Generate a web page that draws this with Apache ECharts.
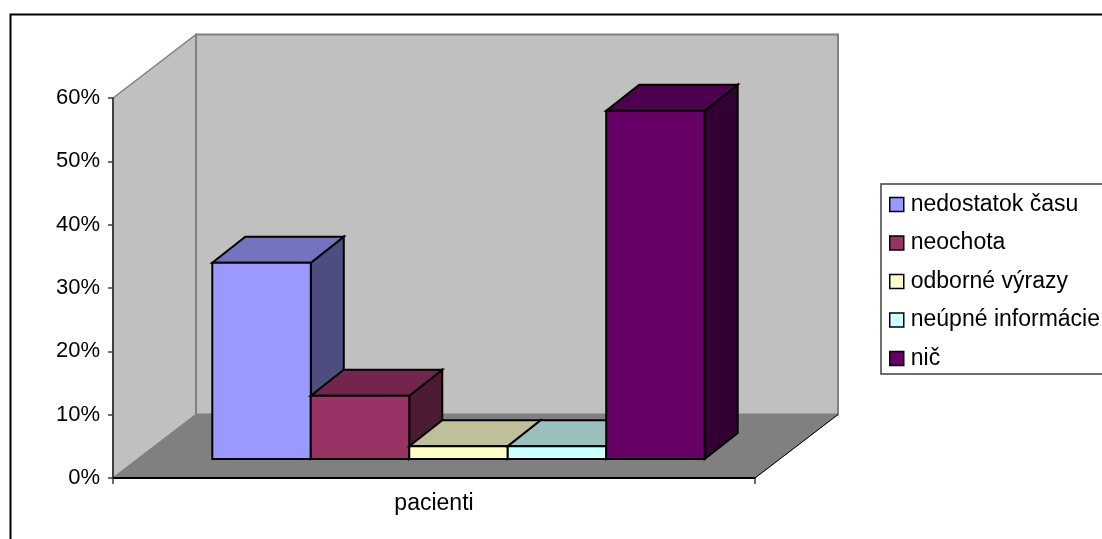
<!DOCTYPE html>
<html>
<head>
<meta charset="utf-8">
<style>html,body{margin:0;padding:0;background:#fff}#chart{width:1102px;height:539px}</style>
<script src="https://cdn.jsdelivr.net/npm/echarts@6/dist/echarts.min.js"></script>
</head>
<body>
<div id="chart"></div>
<script>
// Survey answers for one group, as shares of respondents
const categories = ['pacienti'];
const seriesNames = ['nedostatok času', 'neochota', 'odborné výrazy', 'neúpné informácie', 'nič'];
const seriesValues = [0.31, 0.10, 0.02, 0.02, 0.55];
const seriesColors = ['#9999FF', '#993366', '#FFFFCC', '#CCFFFF', '#660066'];
const yTicks = { min: 0, max: 0.6, interval: 0.1 };

// Oblique projection of the box: full floor depth and the depth of one column
const FLOOR_DX = 83, FLOOR_DY = 63.5;
const BAR_DX = 33, BAR_DY = 26;
const INSET_DX = 24.5, INSET_DY = 19;
const BAR_BAND_SHARE = 0.767;

function shade(hex, f) {
  const n = parseInt(hex.slice(1), 16);
  const c = [n >> 16, (n >> 8) & 255, n & 255].map(v => Math.round(v * f));
  return 'rgb(' + c.join(',') + ')';
}

function poly(points, fill, stroke, lineWidth) {
  return {
    type: 'polygon',
    shape: { points: points },
    style: { fill: fill, stroke: stroke, lineWidth: lineWidth, lineJoin: 'miter' }
  };
}

// Left wall, back wall and floor of the plot box
function renderWalls(params, api) {
  const band = api.size([1, 0])[0];
  const c = api.coord([0, yTicks.min]);
  const t = api.coord([0, yTicks.max]);
  const x0 = c[0] - band / 2, x1 = c[0] + band / 2, y0 = c[1], y1 = t[1];
  return {
    type: 'group',
    children: [
      poly([[x0, y0], [x0 + FLOOR_DX, y0 - FLOOR_DY], [x0 + FLOOR_DX, y1 - FLOOR_DY], [x0, y1]], '#C0C0C0', '#808080', 1.5),
      poly([[x0 + FLOOR_DX, y0 - FLOOR_DY], [x1 + FLOOR_DX, y0 - FLOOR_DY], [x1 + FLOOR_DX, y1 - FLOOR_DY], [x0 + FLOOR_DX, y1 - FLOOR_DY]], '#C0C0C0', '#808080', 2),
      poly([[x0, y0], [x1, y0], [x1 + FLOOR_DX, y0 - FLOOR_DY], [x0 + FLOOR_DX, y0 - FLOOR_DY]], '#808080', '#808080', 1),
      {
        type: 'line',
        shape: { x1: x1, y1: y0, x2: x1 + FLOOR_DX, y2: y0 - FLOOR_DY },
        style: { stroke: '#000', lineWidth: 1 }
      }
    ]
  };
}

// One column: front, top and right faces
function renderBar(index) {
  return function (params, api) {
    const band = api.size([1, 0])[0];
    const w = band * BAR_BAND_SHARE / seriesNames.length;
    const base = api.coord([api.value(0), 0]);
    const top = api.coord([api.value(0), api.value(1)]);
    const left = base[0] + INSET_DX - w * seriesNames.length / 2 + index * w;
    const right = left + w;
    const yb = base[1] - INSET_DY, yt = top[1] - INSET_DY;
    const color = seriesColors[index];
    return {
      type: 'group',
      children: [
        poly([[right, yb], [right + BAR_DX, yb - BAR_DY], [right + BAR_DX, yt - BAR_DY], [right, yt]], shade(color, 0.5), '#000', 2),
        poly([[left, yt], [right, yt], [right + BAR_DX, yt - BAR_DY], [left + BAR_DX, yt - BAR_DY]], shade(color, 0.75), '#000', 2),
        poly([[left, yb], [right, yb], [right, yt], [left, yt]], color, '#000', 2)
      ]
    };
  };
}

const barSeries = seriesNames.map((name, i) => ({
  name: name,
  type: 'custom',
  coordinateSystem: 'cartesian2d',
  renderItem: renderBar(i),
  itemStyle: { color: seriesColors[i] },
  data: [[0, seriesValues[i]]],
  z: 2
}));

const chart = echarts.init(document.getElementById('chart'), null, { renderer: 'canvas' });
chart.setOption({
  animation: false,
  backgroundColor: '#fff',
  textStyle: { fontFamily: 'Liberation Sans' },
  grid: { left: 113, right: 347, top: 98, height: 380 },
  xAxis: {
    type: 'category',
    data: categories,
    z: 3,
    axisLine: { lineStyle: { color: '#000', width: 2 } },
    axisTick: { show: true, length: 6, lineStyle: { color: '#404040', width: 1.5 } },
    axisLabel: { color: '#000', fontSize: 23, fontFamily: 'Liberation Sans', margin: 14 },
    splitLine: { show: false }
  },
  yAxis: {
    type: 'value',
    min: yTicks.min,
    max: yTicks.max,
    interval: yTicks.interval,
    z: 3,
    axisLine: { show: true, lineStyle: { color: '#404040', width: 2 } },
    axisTick: { show: true, length: 5, lineStyle: { color: '#404040', width: 1.5 } },
    axisLabel: {
      color: '#000', fontSize: 22, fontFamily: 'Liberation Sans', margin: 13,
      padding: [2, 0, 0, 0],
      formatter: v => Math.round(v * 100) + '%'
    },
    splitLine: { show: false }
  },
  legend: {
    data: seriesNames,
    orient: 'vertical',
    left: 881,
    top: 184,
    padding: [9, 10, 4, 8],
    itemGap: 15.5,
    itemWidth: 14,
    itemHeight: 14,
    icon: 'rect',
    selectedMode: false,
    borderColor: '#404040',
    borderWidth: 1.5,
    itemStyle: { borderColor: '#000', borderWidth: 1.5 },
    textStyle: { color: '#000', fontSize: 23, fontFamily: 'Liberation Sans', padding: [0, 0, 0, 2] }
  },
  tooltip: { show: false },
  graphic: [{
    type: 'polyline',
    silent: true,
    shape: { points: [[10.5, 545], [10.5, 14.5], [1110, 14.5]] },
    style: { fill: 'none', stroke: '#000', lineWidth: 2 }
  }],
  series: [{
    name: 'plocha',
    type: 'custom',
    coordinateSystem: 'cartesian2d',
    renderItem: renderWalls,
    data: [[0, 0]],
    silent: true,
    z: 1
  }].concat(barSeries)
});
</script>
</body>
</html>
